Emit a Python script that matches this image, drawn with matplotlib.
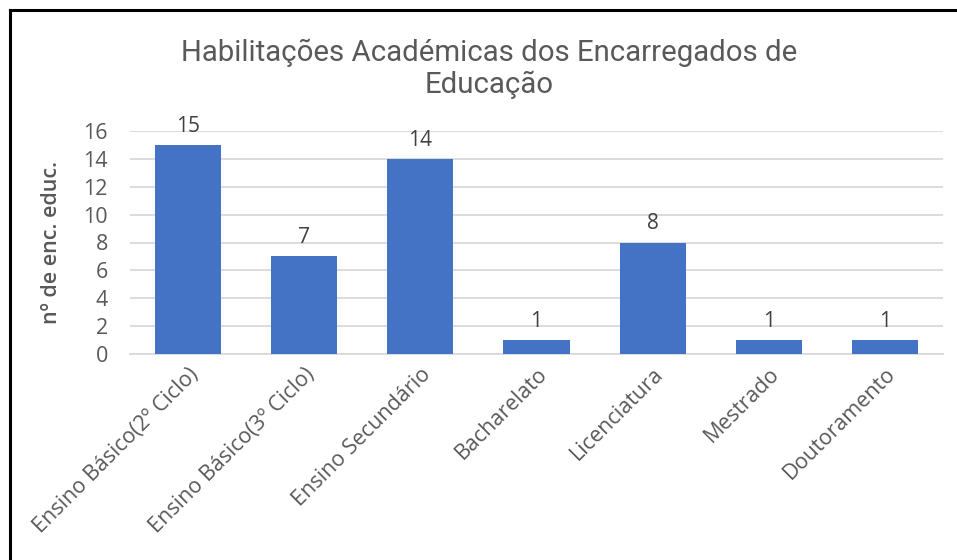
import matplotlib
matplotlib.use("Agg")
import matplotlib.pyplot as plt
from matplotlib.lines import Line2D

categories = [
    "Ensino Básico(2º Ciclo)",
    "Ensino Básico(3º Ciclo)",
    "Ensino Secundário",
    "Bacharelato",
    "Licenciatura",
    "Mestrado",
    "Doutoramento",
]
counts = [15, 7, 14, 1, 8, 1, 1]
y_ticks = [0, 2, 4, 6, 8, 10, 12, 14, 16]

title = "Habilitações Académicas dos Encarregados de\nEducação"
y_label = "nº de enc. educ."

bar_color = "#4472C4"
text_color = "#595959"
grid_color = "#D9D9D9"

plt.rcParams["font.family"] = ["Open Sans", "DejaVu Sans"]

W, H = 957, 560
fig = plt.figure(figsize=(W / 100, H / 100), dpi=100)
fig.patch.set_facecolor("white")

# plot area in pixel coordinates
left, right, top, bottom = 130, 943, 131, 354
ax = fig.add_axes([left / W, 1 - bottom / H, (right - left) / W, (bottom - top) / H])

x = list(range(len(categories)))
ax.bar(x, counts, width=0.57, color=bar_color, zorder=3)
ax.set_xlim(-0.5, len(categories) - 0.5)
ax.set_ylim(0, 16)
ax.set_yticks(y_ticks)
ax.set_yticklabels([str(t) for t in y_ticks])
ax.yaxis.grid(True, color=grid_color, linewidth=1.3, zorder=0)
ax.set_axisbelow(True)
for s in ["top", "right", "left"]:
    ax.spines[s].set_visible(False)
ax.spines["bottom"].set_color(grid_color)
ax.spines["bottom"].set_linewidth(1.3)
ax.tick_params(axis="y", length=0, labelsize=15.5, labelcolor=text_color, pad=16)
ax.tick_params(axis="x", length=0, labelsize=15.5, labelcolor=text_color, pad=7)
ax.set_xticks(x)
ax.set_xticklabels(categories, rotation=45, ha="right", rotation_mode="anchor")

for xi, v in zip(x, counts):
    ax.annotate(str(v), (xi, v), xytext=(0, 6), textcoords="offset points",
                ha="center", va="bottom", fontsize=15, color="#404040")

ax.set_ylabel(y_label, fontsize=15.5, color=text_color, fontweight="semibold")
ax.yaxis.set_label_coords(-68 / (right - left), 0.5)

fig.text(489 / W, 1 - 69 / H, title, ha="center", va="center", fontsize=21.2,
         color=text_color, family=["Roboto", "DejaVu Sans"],
         linespacing=1.15)

# outer frame: top and left edges
fig.add_artist(Line2D([10 / W, 1], [1 - 10 / H, 1 - 10 / H], color="black", linewidth=2.2,
                      transform=fig.transFigure))
fig.add_artist(Line2D([10 / W, 10 / W], [0, 1 - 10 / H], color="black", linewidth=2.2,
                      transform=fig.transFigure))

fig.savefig("out.png", dpi=100)
